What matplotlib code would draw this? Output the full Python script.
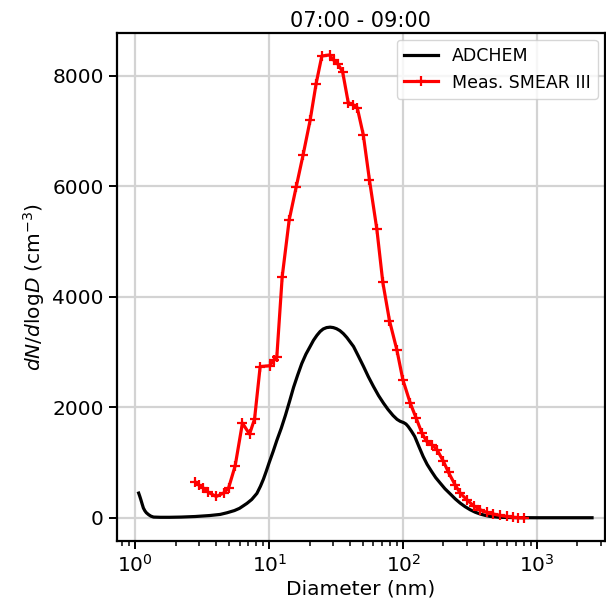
import matplotlib
matplotlib.use('Agg')

import matplotlib.pyplot as plt
import numpy as np

# ADCHEM modelled size distribution
model_d = [1.06, 1.08, 1.10, 1.125, 1.15, 1.18, 1.21, 1.26, 1.31, 1.37, 1.54, 1.8, 2.2, 2.8,
           3.6, 4.3, 4.84, 5.5, 6.0, 6.4, 6.82, 7.4, 8.09, 8.6, 9.06, 9.5, 10.0, 10.7, 11.4,
           12.3, 13.2, 14.2, 15.2, 16.3, 17.5, 18.8, 20.2, 21.4, 22.7, 24.0, 25.3, 26.8,
           28.5, 30.1, 31.8, 33.7, 35.8, 38.0, 40.2, 42.6, 46.4, 50.6, 55.0, 60.0, 65.5,
           71.3, 77.0, 84.0, 90.0, 95.0, 101.0, 105.0, 109.0, 115.0, 122.0, 131.0, 141.0,
           151.0, 163.0, 175.0, 189.0, 205.0, 225.0, 245.0, 266.0, 290.0, 316.0, 345.0,
           376.0, 410.0, 446.0, 520.0, 700.0, 1000.0, 1500.0, 2570.0]
model_n = [446, 390, 330, 250, 175, 125, 90, 54, 28, 12, 8, 8, 12, 22,
           40, 60, 90, 130, 170, 215, 260, 330, 440, 570, 700, 840, 1000, 1200, 1400,
           1620, 1850, 2110, 2360, 2580, 2790, 2960, 3098, 3210, 3300, 3370, 3415, 3440,
           3448, 3440, 3420, 3385, 3330, 3260, 3180, 3098, 2920, 2736, 2550, 2375, 2210,
           2073, 1960, 1850, 1780, 1745, 1720, 1695, 1651, 1570, 1470, 1290, 1108,
           965, 837, 725, 627, 525, 429, 340, 266, 200, 145, 100,
           67, 42, 24, 8, 2, 0, 0, 0]

# SMEAR III measurements
meas_d = [2.8, 2.97, 3.23, 3.52, 4.02, 4.56, 4.97, 5.57, 6.31, 7.13, 7.77, 8.56, 10.05,
          10.8, 11.4, 12.5, 14.1, 15.9, 17.9, 20.2, 22.4, 24.7, 28.2, 30.2, 32.5, 35.3,
          38.9, 42.5, 45.4, 50.4, 56.0, 63.6, 70.5, 79.0, 89.7, 99.5, 113, 125, 138, 150,
          164, 179, 200, 218, 244, 266, 299, 335, 376, 420, 471, 530, 594, 658, 726, 794]
meas_n = [650, 595, 535, 458, 385, 446, 536, 940, 1712, 1513, 1785, 2736, 2749,
          2845, 2917, 4360, 5390, 5985, 6564, 7190, 7855, 8354, 8372, 8282, 8210, 8071,
          7510, 7468, 7420, 6926, 6112, 5221, 4256, 3568, 3038, 2495, 2073, 1802, 1531, 1380,
          1320, 1230, 1018, 820, 597, 447, 325, 217, 145, 96, 67, 42, 24, 8, 2, 0]

fig = plt.figure(figsize=(6.06, 6.11), dpi=100)
ax = fig.add_axes([0.193, 0.115, 0.805, 0.831])

ax.plot(model_d, model_n, color='black', linewidth=2.3, label='ADCHEM')
ax.plot(meas_d, meas_n, color='red', linestyle='-', linewidth=2.3, marker='+',
        markersize=6.5, markeredgewidth=1.6, label='Meas. SMEAR III')

ax.set_xscale('log')
ax.set_xlim(0.73, 3200)
ax.set_ylim(-416, 8770)
ax.set_yticks([0, 2000, 4000, 6000, 8000])
ax.grid(True, which='major', color='#d3d3d3', linewidth=1.6)
ax.set_axisbelow(True)
ax.tick_params(axis='both', which='major', labelsize=14.5, length=6, width=1.4)
ax.tick_params(axis='x', which='minor', length=3.5, width=1.1)
for s in ax.spines.values():
    s.set_linewidth(1.6)

ax.set_xlabel('Diameter (nm)', fontsize=14.5, labelpad=3)
ax.set_ylabel(r'$dN/d\mathrm{log}D$ (cm$^{-3}$)', fontsize=14.5)
ax.set_title('07:00 - 09:00', fontsize=15, pad=4)
ax.legend(loc='upper right', fontsize=12.5, handlelength=2.0, borderaxespad=0.4)

plt.savefig('out.png', dpi=100)
